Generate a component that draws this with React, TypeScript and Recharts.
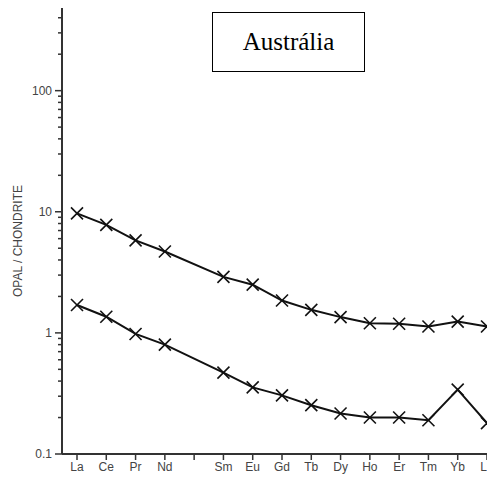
import { LineChart, Line, XAxis, YAxis, ReferenceLine, Label } from "recharts";

// rare earth elements, Pm has no value (gap in the series)
const elements = ["La", "Ce", "Pr", "Nd", "Pm", "Sm", "Eu", "Gd", "Tb", "Dy", "Ho", "Er", "Tm", "Yb", "Lu"];
const upperSeries = [9.7, 7.8, 5.8, 4.7, null, 2.9, 2.5, 1.85, 1.55, 1.35, 1.2, 1.19, 1.13, 1.24, 1.13];
const lowerSeries = [1.7, 1.36, 0.98, 0.8, null, 0.47, 0.355, 0.305, 0.253, 0.216, 0.2, 0.2, 0.19, 0.34, 0.18];

const majorTicks = [0.1, 1, 10, 100];
const minorTicks = [
  0.2, 0.3, 0.4, 0.5, 0.6, 0.7, 0.8, 0.9,
  2, 3, 4, 5, 6, 7, 8, 9,
  20, 30, 40, 50, 60, 70, 80, 90,
  200, 300, 400,
];

const data = elements.map((el, i) => ({
  el,
  upper: upperSeries[i],
  lower: lowerSeries[i],
}));

const AXIS_X = 62;
const AXIS_COLOR = "#333";
const LABEL_COLOR = "#444";
const FONT = "Arial, 'Liberation Sans', sans-serif";

function YTick(props: any) {
  const { y, payload } = props;
  const major = majorTicks.includes(payload.value);
  return (
    <g>
      <line
        x1={AXIS_X - (major ? 7 : 4)}
        x2={AXIS_X}
        y1={y}
        y2={y}
        stroke={AXIS_COLOR}
        strokeWidth={1.5}
      />
      {major && (
        <text x={AXIS_X - 10} y={y} dy={4} textAnchor="end" fontSize={12} fontFamily={FONT} fill={LABEL_COLOR}>
          {payload.value}
        </text>
      )}
    </g>
  );
}

function Cross(props: any) {
  const { cx, cy } = props;
  if (cx == null || cy == null) return null;
  const s = 6;
  return (
    <g>
      <line x1={cx - s} y1={cy - s} x2={cx + s} y2={cy + s} stroke="#111" strokeWidth={1.6} />
      <line x1={cx - s} y1={cy + s} x2={cx + s} y2={cy - s} stroke="#111" strokeWidth={1.6} />
    </g>
  );
}

export default function App() {
  return (
    <div
      style={{
        position: "relative",
        width: 495,
        height: 486,
        margin: -8,
        overflow: "hidden",
        background: "#fff",
      }}
    >
      <LineChart width={510} height={486} data={data} margin={{ top: 6, right: 8, bottom: 2, left: 0 }}>
        <XAxis
          dataKey="el"
          interval={0}
          height={30}
          padding={{ left: 15, right: 15 }}
          tickFormatter={(v: string) => (v === "Pm" ? "" : v)}
          tick={{ fontSize: 12, fill: LABEL_COLOR, fontFamily: FONT }}
          tickSize={6}
          tickLine={{ stroke: AXIS_COLOR, strokeWidth: 1.5 }}
          axisLine={{ stroke: AXIS_COLOR, strokeWidth: 2 }}
        />
        <YAxis
          scale="log"
          domain={[0.1, 500]}
          allowDataOverflow
          ticks={[...majorTicks, ...minorTicks]}
          interval={0}
          width={62}
          tick={<YTick />}
          tickLine={false}
          axisLine={{ stroke: AXIS_COLOR, strokeWidth: 2 }}
        >
          <Label
            content={() => (
              <text
                x={22}
                y={241}
                transform="rotate(-90 22 241)"
                textAnchor="middle"
                fontSize={12}
                fontFamily={FONT}
                fill={LABEL_COLOR}
              >
                OPAL / CHONDRITE
              </text>
            )}
          />
        </YAxis>
        <ReferenceLine y={500} stroke="#666" strokeWidth={2} />
        <Line
          dataKey="upper"
          stroke="#111"
          strokeWidth={2}
          connectNulls
          dot={<Cross />}
          activeDot={false}
          isAnimationActive={false}
        />
        <Line
          dataKey="lower"
          stroke="#111"
          strokeWidth={2}
          connectNulls
          dot={<Cross />}
          activeDot={false}
          isAnimationActive={false}
        />
      </LineChart>
      <div
        style={{
          position: "absolute",
          left: 212,
          top: 12,
          width: 153,
          height: 60,
          boxSizing: "border-box",
          border: "1.5px solid #000",
          background: "#fff",
          display: "flex",
          alignItems: "center",
          justifyContent: "center",
          fontFamily: "'Liberation Serif', 'Times New Roman', serif",
          fontSize: 25,
          color: "#000",
        }}
      >
        Austrália
      </div>
    </div>
  );
}
